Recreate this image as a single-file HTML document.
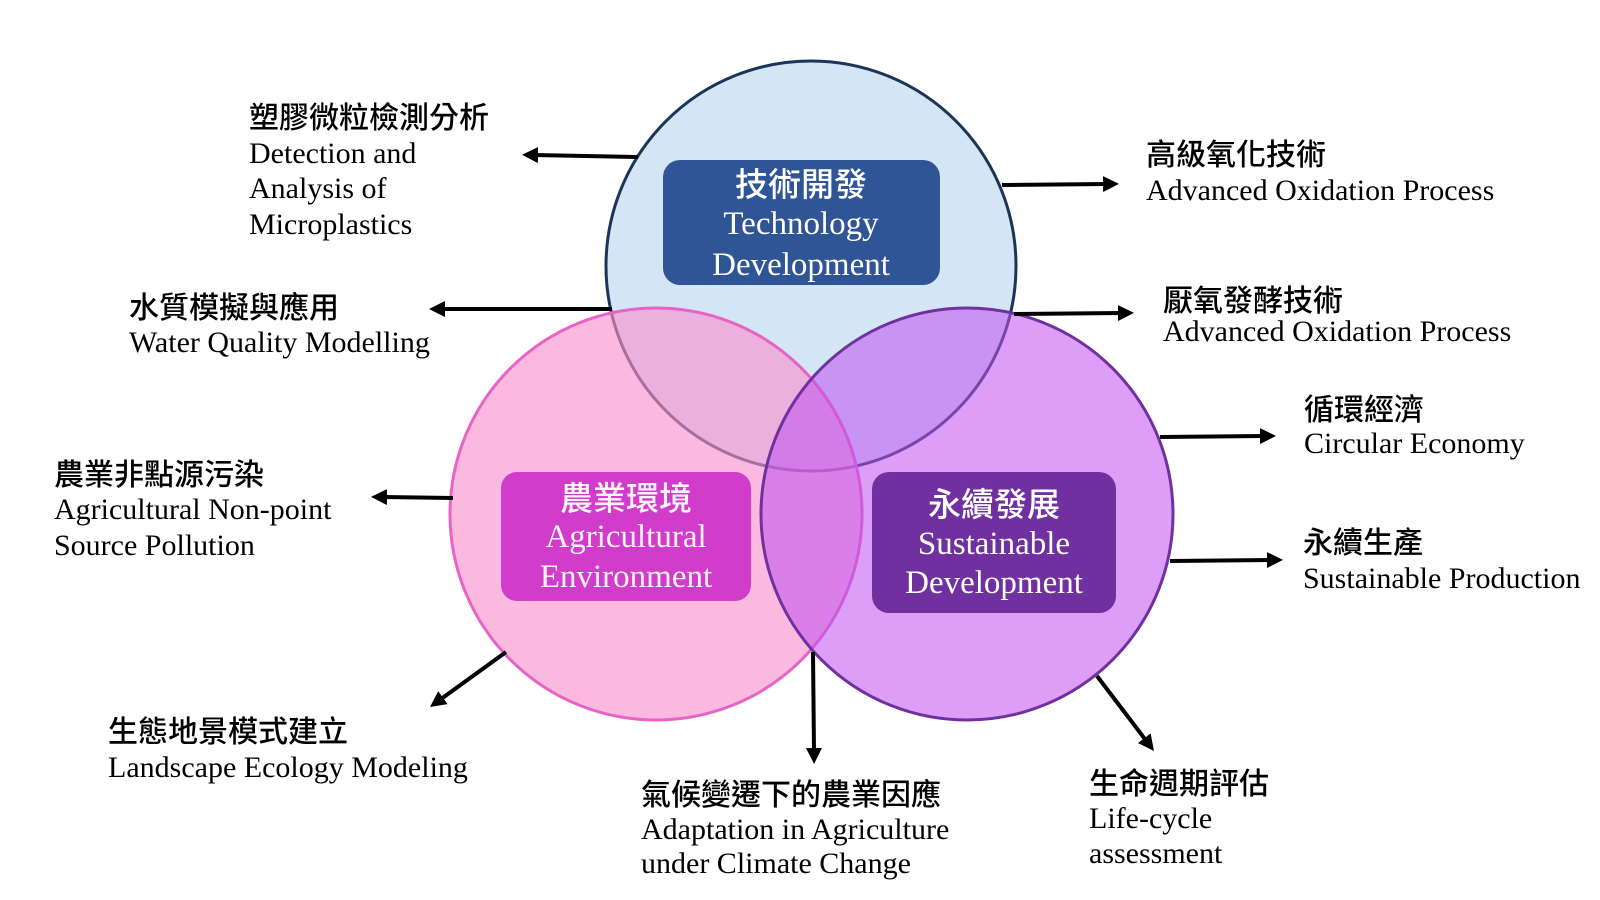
<!DOCTYPE html>
<html>
<head>
<meta charset="utf-8">
<style>
  html, body { margin: 0; padding: 0; background: #ffffff; }
  svg { display: block; }
  .cjk { font-family: "Liberation Sans", "Noto Sans CJK TC", sans-serif; font-weight: 500; }
  .lat { font-family: "Liberation Serif", serif; }
</style>
</head>
<body>
<svg width="1600" height="900" viewBox="0 0 1600 900" xmlns="http://www.w3.org/2000/svg">
  <defs>
    <marker id="ah" markerUnits="userSpaceOnUse" markerWidth="16" markerHeight="16" refX="4" refY="8" orient="auto">
      <path d="M0,0 L16,8 L0,16 z" fill="#000"/>
    </marker>
  </defs>
  <rect x="0" y="0" width="1600" height="900" fill="#ffffff"/>

  <!-- Circles -->
  <circle cx="811" cy="266" r="205" fill="#d4e6f5" stroke="#1b3557" stroke-width="3"/>
  <circle cx="656" cy="514" r="206" fill="rgba(248,144,204,0.63)" stroke="#e763c6" stroke-width="3"/>
  <circle cx="967" cy="514" r="206" fill="rgba(192,82,239,0.56)" stroke="#7030a0" stroke-width="3"/>

  <!-- Boxes -->
  <rect x="663" y="160" width="277" height="125" rx="17" ry="17" fill="#2f5597"/>
  <rect x="501" y="472" width="250" height="129" rx="16" ry="16" fill="#d13ccb"/>
  <rect x="872" y="472" width="244" height="141" rx="17" ry="17" fill="#7030a0"/>

  <!-- Box texts -->
  <g fill="#ffffff" text-anchor="middle">
    <text x="801" y="196" class="cjk" font-size="33">技術開發</text>
    <text x="801" y="234" class="lat" font-size="33">Technology</text>
    <text x="801" y="275" class="lat" font-size="33">Development</text>
  </g>
  <g fill="#fff4fc" text-anchor="middle">
    <text x="626" y="510" class="cjk" font-size="33">農業環境</text>
    <text x="626" y="547" class="lat" font-size="33">Agricultural</text>
    <text x="626" y="587" class="lat" font-size="33">Environment</text>
  </g>
  <g fill="#ffffff" text-anchor="middle">
    <text x="994" y="516" class="cjk" font-size="33">永續發展</text>
    <text x="994" y="554" class="lat" font-size="33">Sustainable</text>
    <text x="994" y="593" class="lat" font-size="33">Development</text>
  </g>

  <!-- Arrows -->
  <g stroke="#000" stroke-width="4" fill="none" marker-end="url(#ah)">
    <line x1="638" y1="157" x2="534" y2="155"/>
    <line x1="612" y1="309" x2="441" y2="309"/>
    <line x1="453" y1="498" x2="383" y2="497"/>
    <line x1="506" y1="652" x2="439.7" y2="700"/>
    <line x1="1002" y1="185" x2="1107" y2="184"/>
    <line x1="1014" y1="314" x2="1122" y2="313"/>
    <line x1="1160" y1="437" x2="1264" y2="436"/>
    <line x1="1170" y1="561" x2="1271" y2="560"/>
    <line x1="813" y1="652" x2="814" y2="752"/>
    <line x1="1097" y1="676" x2="1146.7" y2="741.4"/>
  </g>

  <!-- Labels -->
  <g fill="#000">
    <text x="249" y="128" class="cjk" font-size="30">塑膠微粒檢測分析</text>
    <text x="249" y="163" class="lat" font-size="30">Detection and</text>
    <text x="249" y="198" class="lat" font-size="30">Analysis of</text>
    <text x="249" y="234" class="lat" font-size="30">Microplastics</text>

    <text x="129" y="318" class="cjk" font-size="30">水質模擬與應用</text>
    <text x="129" y="352" class="lat" font-size="30">Water Quality Modelling</text>

    <text x="54" y="485" class="cjk" font-size="30">農業非點源污染</text>
    <text x="54" y="519" class="lat" font-size="30">Agricultural Non-point</text>
    <text x="54" y="555" class="lat" font-size="30">Source Pollution</text>

    <text x="108" y="742" class="cjk" font-size="30">生態地景模式建立</text>
    <text x="108" y="777" class="lat" font-size="30">Landscape Ecology Modeling</text>

    <text x="641" y="805" class="cjk" font-size="30">氣候變遷下的農業因應</text>
    <text x="641" y="839" class="lat" font-size="30">Adaptation in Agriculture</text>
    <text x="641" y="873" class="lat" font-size="30">under Climate Change</text>

    <text x="1089" y="794" class="cjk" font-size="30">生命週期評估</text>
    <text x="1089" y="828" class="lat" font-size="30">Life-cycle</text>
    <text x="1089" y="863" class="lat" font-size="30">assessment</text>

    <text x="1146" y="165" class="cjk" font-size="30">高級氧化技術</text>
    <text x="1146" y="200" class="lat" font-size="30">Advanced Oxidation Process</text>

    <text x="1163" y="311" class="cjk" font-size="30">厭氧發酵技術</text>
    <text x="1163" y="341" class="lat" font-size="30">Advanced Oxidation Process</text>

    <text x="1304" y="420" class="cjk" font-size="30">循環經濟</text>
    <text x="1304" y="453" class="lat" font-size="30">Circular Economy</text>

    <text x="1303" y="553" class="cjk" font-size="30">永續生產</text>
    <text x="1303" y="588" class="lat" font-size="30">Sustainable Production</text>
  </g>
</svg>
</body>
</html>
